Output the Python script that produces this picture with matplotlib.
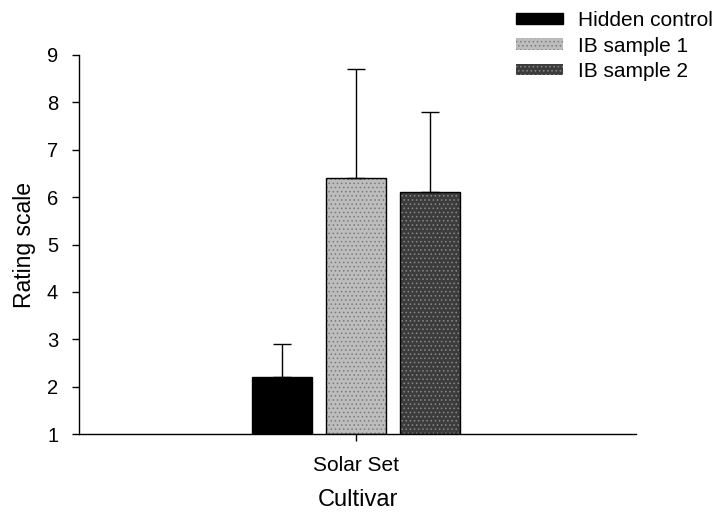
import matplotlib
matplotlib.use("Agg")
import matplotlib.pyplot as plt
import numpy as np

plt.rcParams['font.family'] = ['Liberation Sans', 'DejaVu Sans']
plt.rcParams['hatch.linewidth'] = 0.6

cultivar = ["Solar Set"]
series = ["Hidden control", "IB sample 1", "IB sample 2"]
means = [2.2, 6.4, 6.1]
errors = [0.7, 2.3, 1.7]
colors = ["#000000", "#bdbdbd", "#3c3c3c"]
hatches = [None, "....", "...."]
hatch_colors = ["#000000", "#7a7a7a", "#8a8a8a"]

fig = plt.figure(figsize=(7.15, 5.12), dpi=100)
ax = fig.add_axes([0.1105, 0.1523, 0.779, 0.7403])

offsets = np.array([-1, 0, 1])
width = 0.81
handles = []
for i, (s, m, e) in enumerate(zip(series, means, errors)):
    b = ax.bar(offsets[i], m - 1, bottom=1, width=width, color=colors[i],
               edgecolor="black", linewidth=1, hatch=hatches[i], label=s)
    if hatches[i]:
        b[0].set_edgecolor(hatch_colors[i])
        b[0].set_linewidth(0)
        ax.bar(offsets[i], m - 1, bottom=1, width=width, facecolor="none",
               edgecolor="black", linewidth=1)
    ax.errorbar(offsets[i], m, yerr=[[0], [e]], fmt="none", ecolor="black",
                elinewidth=1, capsize=6.5, capthick=1)
    handles.append(b)

ax.set_xlim(-3.74, 3.79)
ax.set_ylim(1, 9)
ax.set_yticks(range(1, 10))
ax.set_xticks([0])
ax.set_xticklabels(cultivar, fontsize=15)
ax.tick_params(axis='y', labelsize=14.5, direction='out', length=5, width=1, pad=10)
ax.tick_params(axis='x', direction='out', length=5, width=1, pad=11)
for sp in ['top', 'right']:
    ax.spines[sp].set_visible(False)
ax.spines['left'].set_linewidth(1)
ax.spines['bottom'].set_linewidth(1)

ax.set_ylabel("Rating scale", fontsize=16.5, labelpad=8)
ax.set_xlabel("Cultivar", fontsize=17, labelpad=10)

leg = fig.legend(handles=handles, labels=series, loc='upper left',
                 bbox_to_anchor=(0.7217, 0.978), frameon=False, fontsize=15,
                 handlelength=2.26, handleheight=0.45, handletextpad=0.72,
                 labelspacing=0.3, borderaxespad=0, borderpad=0)

fig.savefig("out.png", dpi=100)
